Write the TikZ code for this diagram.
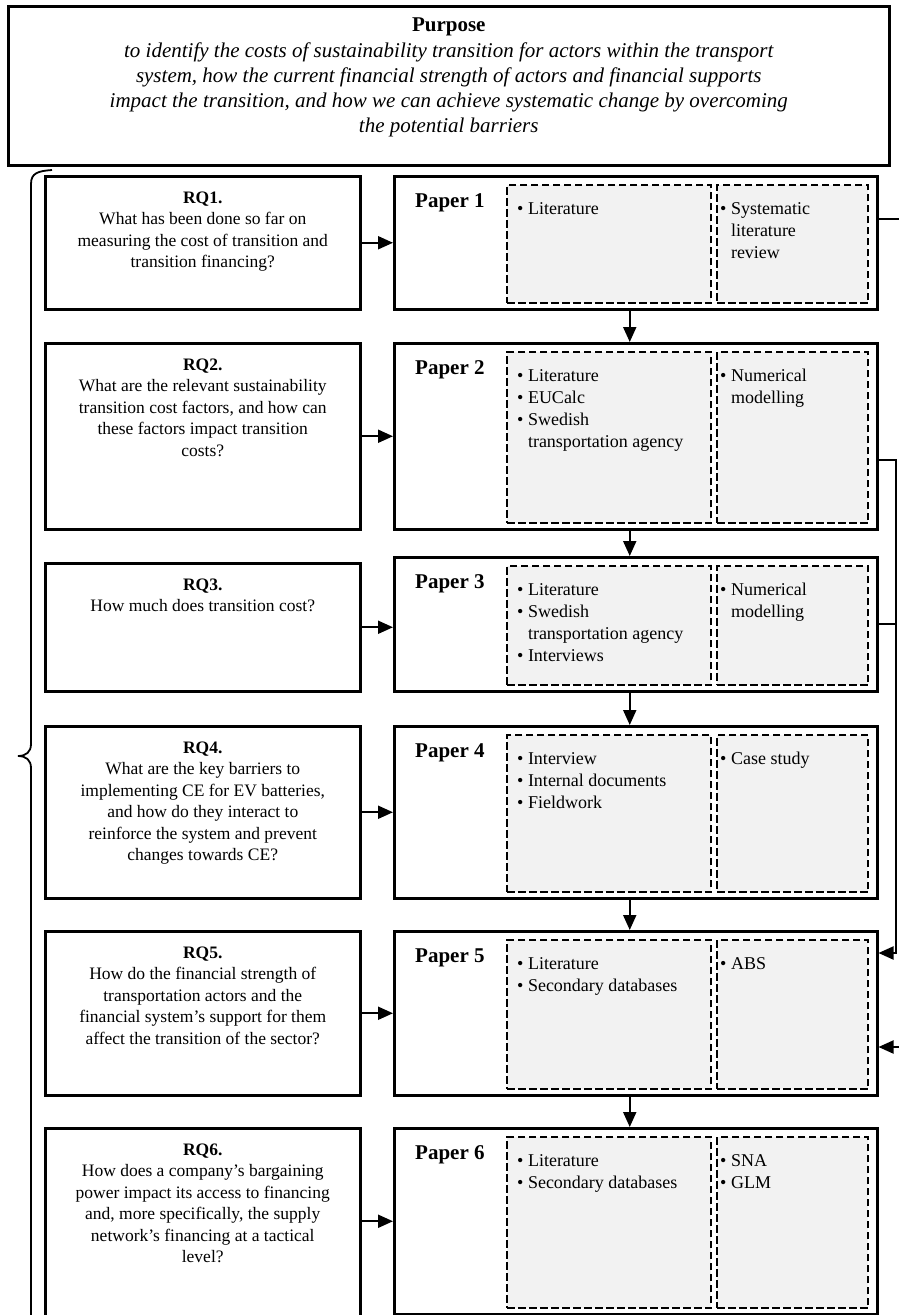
\documentclass[tikz,border=0pt]{standalone}
\usepackage{fontspec}
\setmainfont{Liberation Serif}
\usetikzlibrary{arrows.meta,calc}
\definecolor{innerfill}{HTML}{F2F2F2}
\begin{document}
\begin{tikzpicture}[x=1pt,y=-1pt,
  box/.style={draw,line width=2.5pt,anchor=north west,inner sep=0pt,minimum width=#1},
  dbox/.style={draw,line width=2.4pt,dash pattern=on 7.5pt off 3.5pt,fill=innerfill,anchor=north west,inner sep=0pt},
  arr/.style={line width=2pt,-{Triangle[length=15pt,width=13pt]}},
  con/.style={line width=2pt},
  rqtext/.style={anchor=base,inner sep=0pt,font=\fontsize{17.5}{21.5}\selectfont},
  ltext/.style={anchor=base west,inner sep=0pt,font=\fontsize{18}{22}\selectfont},
  plabel/.style={anchor=base west,inner sep=0pt,font=\fontsize{21}{25}\selectfont\bfseries}]
\useasboundingbox (0,0) rectangle (899,1315);

% purpose
\node[box=881pt,minimum height=159pt] (purpose) at (7,5) {};
\node[anchor=base,inner sep=0pt,font=\fontsize{21}{25}\selectfont\bfseries] (ptitle) at ($(purpose.north)+(0,26)$) {Purpose};
\node[anchor=base,inner sep=0pt,font=\fontsize{21}{25.3}\selectfont\itshape] (ptext) at ($(purpose.north)+(0,52)$)
 {\begin{tabular}[t]{@{}c@{}}to identify the costs of sustainability transition for actors within the transport\\
 system, how the current financial strength of actors and financial supports\\
 impact the transition, and how we can achieve systematic change by overcoming\\
 the potential barriers\end{tabular}};

% brace
\draw[line width=1.8pt] (52,170) .. controls (38,171) and (31,173) .. (31,184) -- (31,744)
  .. controls (31,752) and (26,756) .. (18,756) .. controls (26,756) and (31,760) .. (31,768) -- (31,1340);

% RQ boxes
\node[box=315pt,minimum height=133pt] (rq1) at (44,175) {};
\node[box=315pt,minimum height=186pt] (rq2) at (44,342) {};
\node[box=315pt,minimum height=128pt] (rq3) at (44,562) {};
\node[box=315pt,minimum height=172pt] (rq4) at (44,725) {};
\node[box=315pt,minimum height=164pt] (rq5) at (44,930) {};
\node[box=315pt,minimum height=213pt] (rq6) at (44,1127) {};

\node[rqtext] (rq1t) at ($(rq1.north)+(0,28)$) {\begin{tabular}[t]{@{}c@{}}\textbf{RQ1.}\\What has been done so far on\\measuring the cost of transition and\\transition financing?\end{tabular}};
\node[rqtext] (rq2t) at ($(rq2.north)+(0,28)$) {\begin{tabular}[t]{@{}c@{}}\textbf{RQ2.}\\What are the relevant sustainability\\transition cost factors, and how can\\these factors impact transition\\costs?\end{tabular}};
\node[rqtext] (rq3t) at ($(rq3.north)+(0,28)$) {\begin{tabular}[t]{@{}c@{}}\textbf{RQ3.}\\How much does transition cost?\end{tabular}};
\node[rqtext] (rq4t) at ($(rq4.north)+(0,28)$) {\begin{tabular}[t]{@{}c@{}}\textbf{RQ4.}\\What are the key barriers to\\implementing CE for EV batteries,\\and how do they interact to\\reinforce the system and prevent\\changes towards CE?\end{tabular}};
\node[rqtext] (rq5t) at ($(rq5.north)+(0,28)$) {\begin{tabular}[t]{@{}c@{}}\textbf{RQ5.}\\How do the financial strength of\\transportation actors and the\\financial system’s support for them\\affect the transition of the sector?\end{tabular}};
\node[rqtext] (rq6t) at ($(rq6.north)+(0,28)$) {\begin{tabular}[t]{@{}c@{}}\textbf{RQ6.}\\How does a company’s bargaining\\power impact its access to financing\\and, more specifically, the supply\\network’s financing at a tactical\\level?\end{tabular}};

% Paper boxes
\node[box=483pt,minimum height=133pt] (p1) at (393,175) {};
\node[box=483pt,minimum height=186pt] (p2) at (393,342) {};
\node[box=483pt,minimum height=134pt] (p3) at (393,556) {};
\node[box=483pt,minimum height=172pt] (p4) at (393,725) {};
\node[box=483pt,minimum height=164pt] (p5) at (393,930) {};
\node[box=483pt,minimum height=186pt] (p6) at (393,1127) {};

\foreach \p/\t/\h in {p1/175/133,p2/342/186,p3/556/134,p4/725/172,p5/930/164,p6/1127/186}{
  \node[dbox,minimum width=204pt,minimum height=\h pt-15pt] (\p a) at (506,\t+9) {};
  \node[dbox,minimum width=151pt,minimum height=\h pt-15pt] (\p b) at (716,\t+9) {};
}

\foreach \p/\n in {p1/1,p2/2,p3/3,p4/4,p5/5,p6/6}{
  \node[plabel] (\p lab) at ($(\p.north west)+(22,32)$) {Paper \n};
}

\newcommand{\blist}[1]{\begin{tabular}[t]{@{}c@{\hspace{4.5pt}}l@{}}#1\end{tabular}}
\node[ltext] (p1al) at ($(p1a.north west)+(11,30)$) {\blist{\textbullet&Literature}};
\node[ltext] (p1bl) at ($(p1b.north west)+(4,30)$) {\blist{\textbullet&Systematic\\&literature\\&review}};
\node[ltext] (p2al) at ($(p2a.north west)+(11,30)$) {\blist{\textbullet&Literature\\\textbullet&EUCalc\\\textbullet&Swedish\\&transportation agency}};
\node[ltext] (p2bl) at ($(p2b.north west)+(4,30)$) {\blist{\textbullet&Numerical\\&modelling}};
\node[ltext] (p3al) at ($(p3a.north west)+(11,30)$) {\blist{\textbullet&Literature\\\textbullet&Swedish\\&transportation agency\\\textbullet&Interviews}};
\node[ltext] (p3bl) at ($(p3b.north west)+(4,30)$) {\blist{\textbullet&Numerical\\&modelling}};
\node[ltext] (p4al) at ($(p4a.north west)+(11,30)$) {\blist{\textbullet&Interview\\\textbullet&Internal documents\\\textbullet&Fieldwork}};
\node[ltext] (p4bl) at ($(p4b.north west)+(4,30)$) {\blist{\textbullet&Case study}};
\node[ltext] (p5al) at ($(p5a.north west)+(11,30)$) {\blist{\textbullet&Literature\\\textbullet&Secondary databases}};
\node[ltext] (p5bl) at ($(p5b.north west)+(4,30)$) {\blist{\textbullet&ABS}};
\node[ltext] (p6al) at ($(p6a.north west)+(11,30)$) {\blist{\textbullet&Literature\\\textbullet&Secondary databases}};
\node[ltext] (p6bl) at ($(p6b.north west)+(4,30)$) {\blist{\textbullet&SNA\\\textbullet&GLM}};

% RQ -> paper arrows
\foreach \i in {1,...,5}{
  \draw[arr] (rq\i.east) -- (rq\i.east -| p\i.west);
}
\draw[arr] (p6.west -| rq6.east) -- (p6.west);

% paper -> paper arrows
\foreach \a/\b in {p1/p2,p2/p3,p3/p4,p4/p5,p5/p6}{
  \draw[arr] ([xshift=-6pt]\a.south) -- ([xshift=-6pt]\b.north);
}

% right connectors
\coordinate (vr) at (896,0);
\coordinate (edge) at (905,0);
\coordinate (c1) at ($(p1.north east)+(0,44)$);
\coordinate (c2) at ($(p2.north east)+(0,118)$);
\coordinate (c5a) at ($(p5.north east)+(0,23)$);
\coordinate (c5b) at ($(p5.north east)+(0,117)$);
\draw[con] (c1) -- (c1 -| edge);
\draw[arr] (c2) -- (c2 -| vr) -- (c5a -| vr) -- (c5a);
\draw[con] (p3.east) -- (p3.east -| vr);
\draw[arr] (c5b -| edge) -- (c5b);
\end{tikzpicture}
\end{document}
